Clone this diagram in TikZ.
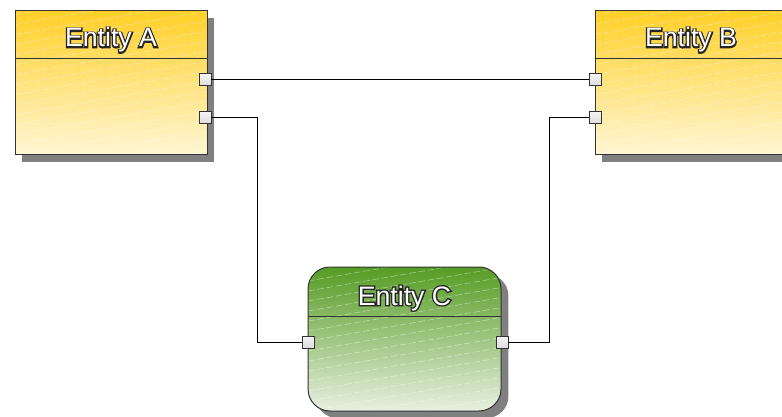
\documentclass[tikz,border=0pt]{standalone}
\usepackage{fontspec}
\setmainfont{Liberation Sans}
\newfontfamily\ttloutline[FakeBold=10]{Liberation Sans}
\usetikzlibrary{shadows}
\definecolor{yelA}{RGB}{255,208,40}
\definecolor{yelB}{RGB}{255,246,212}
\definecolor{grnA}{RGB}{86,156,36}
\definecolor{grnB}{RGB}{232,240,226}
\definecolor{shadowgray}{RGB}{128,128,128}
\newcommand\enttitle[3]{%
  \node[ttl,text=black!85,font=\ttloutline\fontsize{20}{20}\selectfont] (#1o) at (#2) {#3};
  \node[ttl,text=white] (#1) at (#2) {#3};}
\begin{document}
\begin{tikzpicture}[x=0.75pt,y=-0.75pt,
  hatch/.style={white,opacity=0.45,line width=0.4pt,dash pattern=on 5pt off 2pt},
  ent/.style={draw=black!80,line width=0.75pt,minimum width=144pt,minimum height=108pt,
    inner sep=0pt,outer sep=0pt,
    drop shadow={shadow xshift=5.6pt,shadow yshift=-5.3pt,fill=shadowgray,opacity=1},
    shading angle=30,
    path picture={\foreach \k in {-5,...,15}{\draw[hatch] ([yshift=\k*7.5pt]path picture bounding box.south west) -- ++(150pt,26pt);}}},
  yel/.style={ent,top color=yelA,bottom color=yelB},
  grn/.style={ent,top color=grnA,bottom color=grnB,rounded corners=16.5pt},
  sepline/.style={draw=black!80,line width=0.75pt},
  ttl/.style={font=\fontsize{20}{20}\selectfont,anchor=base,inner sep=0pt},
  port/.style={draw=black!80,line width=0.75pt,top color=white!96!black,bottom color=black!14,
    minimum size=9pt,inner sep=0pt,outer sep=0pt},
  conn/.style={draw=black,line width=0.75pt}
]
\useasboundingbox (0,0) rectangle (782,417);
% entities
\node[yel] (A) at (111,82.5) {};
\node[yel] (B) at (691,82.5) {};
\node[grn,minimum width=144.75pt] (C) at (404.5,339) {};
% header separators
\coordinate (hA) at (0,58.5);
\coordinate (hC) at (0,316);
\draw[sepline] (A.west |- hA) -- (A.east |- hA);
\draw[sepline] (B.west |- hA) -- (B.east |- hA);
\draw[sepline] (C.west |- hC) -- (C.east |- hC);
% titles
\enttitle{tA}{111,47}{Entity A}
\enttitle{tB}{691,47}{Entity B}
\enttitle{tC}{404.5,305}{Entity C}
% connectors
\coordinate (j1) at (257,118);
\coordinate (j2) at (549,118);
\node[port] (A1) at (205,80) {};
\node[port] (A2) at (205,118) {};
\node[port] (B1) at (595,80) {};
\node[port] (B2) at (595,118) {};
\node[port] (C1) at (308,342) {};
\node[port] (C2) at (502,342) {};
\draw[conn] (A1.east) -- (B1.west);
\draw[conn] (A2.east) -- (j1) |- (C1.west);
\draw[conn] (C2.east) -| (j2) -- (B2.west);
\end{tikzpicture}
\end{document}
